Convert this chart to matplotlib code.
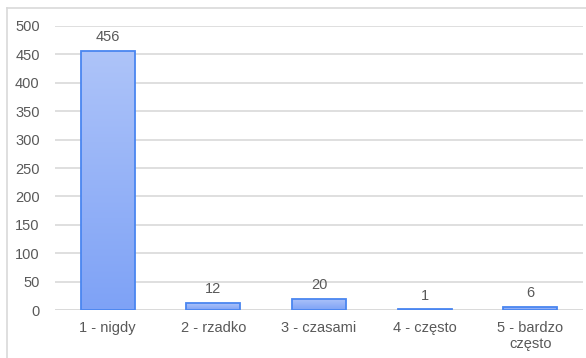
import numpy as np
import matplotlib.pyplot as plt
from matplotlib.lines import Line2D
from matplotlib.colors import LinearSegmentedColormap

categories = ["1 - nigdy", "2 - rzadko", "3 - czasami", "4 - często", "5 - bardzo\nczęsto"]
values = [456, 12, 20, 1, 6]
yticks = [0, 50, 100, 150, 200, 250, 300, 350, 400, 450, 500]

plt.rcParams['font.family'] = ['Liberation Sans', 'DejaVu Sans']
W, H = 586, 358
fig = plt.figure(figsize=(W / 100, H / 100), dpi=100)
# chart frame (cropped on the right and bottom)
fig.lines.append(Line2D([7 / W, 1], [1 - 8 / H, 1 - 8 / H], transform=fig.transFigure, color="#d9d9d9", lw=1.2))
fig.lines.append(Line2D([7 / W, 7 / W], [0, 1 - 8 / H], transform=fig.transFigure, color="#d9d9d9", lw=1.2))
ax = fig.add_axes([55 / W, 1 - 310 / H, 528 / W, 284 / H])

x = np.arange(len(categories))
bars = ax.bar(x, values, width=0.51, color="none", edgecolor="#4a86f0", lw=1.3, zorder=3)

# vertical gradient inside each bar
grad = np.linspace(0, 1, 256).reshape(-1, 1)
cmap = LinearSegmentedColormap.from_list("g", ["#7ea2f6", "#aec4f9"])
for b in bars:
    x0, w, h = b.get_x(), b.get_width(), b.get_height()
    im = ax.imshow(grad, cmap=cmap, extent=(x0, x0 + w, 0, max(h, 0.5)), origin="lower",
                   aspect="auto", zorder=2)
    im.set_clip_path(b)
    ax.text(x0 + w / 2, h + 12, str(int(h)), ha="center", va="bottom", fontsize=10.5, color="#595959")

ax.set_xlim(-0.5, len(categories) - 0.5)
ax.set_ylim(0, 500)
ax.set_yticks(yticks)
ax.set_xticks(x)
ax.set_xticklabels(categories, linespacing=1.2)
ax.tick_params(length=0, labelsize=10.5, labelcolor="#595959", pad=8)
ax.tick_params(axis="y", pad=11)
ax.grid(axis="y", color="#d9d9d9", lw=1.2, zorder=0)
for s in ax.spines.values():
    s.set_visible(False)
ax.axhline(0, color="#d9d9d9", lw=1.2, zorder=1)

fig.savefig("out.png", dpi=100)
